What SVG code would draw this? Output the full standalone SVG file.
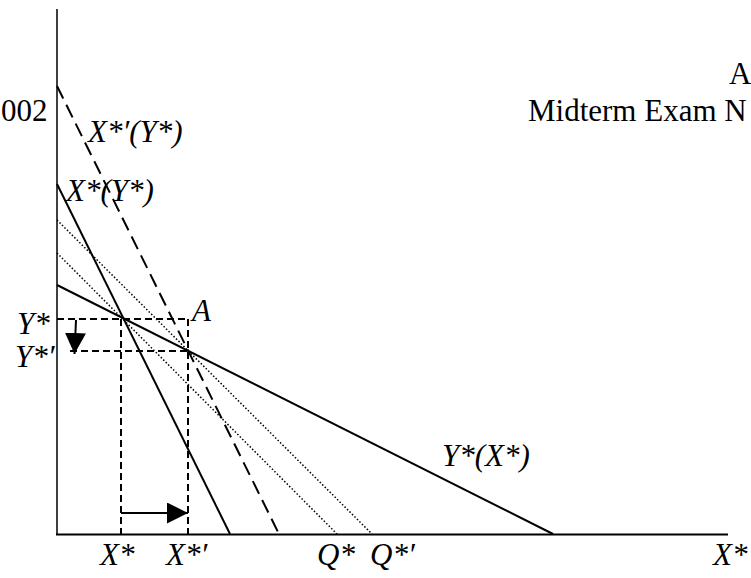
<svg xmlns="http://www.w3.org/2000/svg" width="751" height="578" viewBox="0 0 751 578">
<style>
text{font-family:"Times New Roman","Liberation Serif","DejaVu Serif",serif;font-size:31px;fill:#000}
.i{font-style:italic}
.solid{stroke:#000;stroke-width:2;fill:none}
.dash{stroke:#000;stroke-width:2;fill:none;stroke-dasharray:14 7}
.guide{stroke:#000;stroke-width:2;fill:none;stroke-dasharray:7 4}
.dot{stroke:#000;stroke-width:1.5;fill:none;stroke-dasharray:1.5 2}
</style>
<defs>
<marker id="ah" markerWidth="21" markerHeight="21" refX="21" refY="10.5" orient="auto" markerUnits="userSpaceOnUse">
<path d="M0,0 L21,10.5 L0,21 Z" fill="#000"/>
</marker>
</defs>
<g id="header">
<text x="1" y="121">002</text>
<text x="528" y="121" font-size="32">Midterm Exam N</text>
<text x="729" y="84">A</text>
</g>
<g id="axes">
<line x1="57" y1="9" x2="57" y2="535" stroke="#000" stroke-width="1.5"/>
<line x1="56" y1="534.5" x2="728" y2="534.5" stroke="#000" stroke-width="2.2"/>
</g>
<g id="connectors">
<line id="iso1" class="dot" x1="57" y1="253" x2="337" y2="534"/>
<line id="iso2" class="dot" x1="57" y1="220" x2="372" y2="534"/>
<line id="ystar" class="solid" x1="57" y1="285" x2="553" y2="534"/>
<line id="xstar" class="solid" x1="57" y1="184" x2="230" y2="534"/>
<line id="xstarp" class="dash" x1="57" y1="86" x2="279" y2="534"/>
<line class="guide" x1="57" y1="319" x2="188" y2="319"/>
<line class="guide" x1="70" y1="351" x2="188" y2="351"/>
<line class="guide" x1="121" y1="319" x2="121" y2="534"/>
<line class="guide" x1="188" y1="319" x2="188" y2="534" stroke-width="1.3"/>
<line x1="76" y1="320" x2="74.5" y2="354" stroke="#000" stroke-width="2" marker-end="url(#ah)"/>
<line x1="121" y1="513" x2="188" y2="513" stroke="#000" stroke-width="2" marker-end="url(#ah)"/>
</g>
<g id="labels">
<text class="i" x="88" y="142">X*′(Y*)</text>
<text class="i" x="66" y="201">X*(Y*)</text>
<text class="i" x="17" y="334">Y*</text>
<text class="i" x="15" y="367">Y*′</text>
<text class="i" x="192" y="321">A</text>
<text class="i" x="442" y="466">Y*(X*)</text>
<text class="i" x="100" y="565">X*</text>
<text class="i" x="166" y="565">X*′</text>
<text class="i" x="317" y="565">Q*</text>
<text class="i" x="370" y="565">Q*′</text>
<text class="i" x="713" y="565">X*</text>
</g>
</svg>
